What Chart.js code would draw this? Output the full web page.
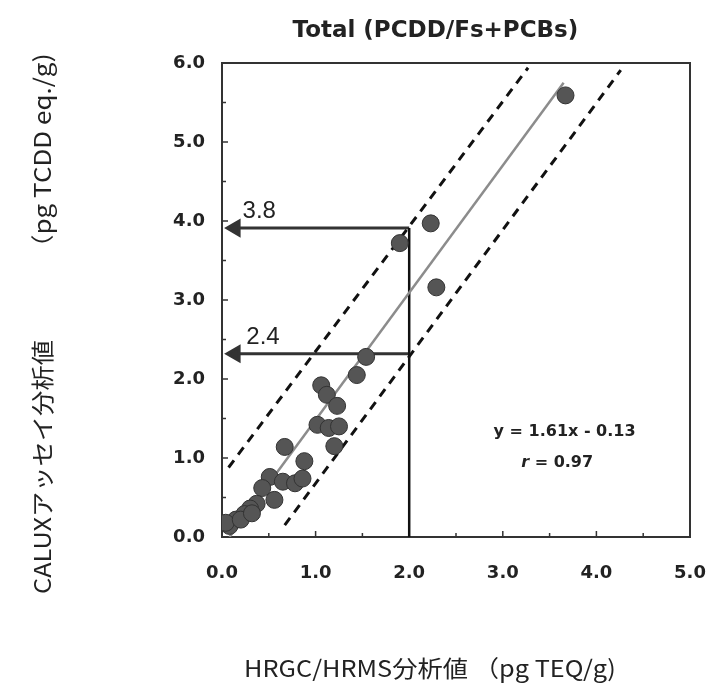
<!DOCTYPE html>
<html>
<head>
<meta charset="utf-8">
<script src="https://cdn.jsdelivr.net/npm/chart.js@4.4.0/dist/chart.umd.min.js"></script>
<style>
  html, body { margin: 0; padding: 0; background: #fff; }
  #wrap { width: 709px; height: 692px; }
</style>
</head>
<body>
<div id="wrap"><canvas id="myChart" width="709" height="692"></canvas></div>
<script>
// measured values (pg TEQ/g vs pg TCDD eq./g)
const hrgcX = [3.67, 2.23, 1.90, 2.29, 1.54, 1.44, 1.06, 1.12, 1.23, 1.02, 1.14, 1.25, 1.20, 0.67, 0.88,
               0.51, 0.65, 0.78, 0.86, 0.43, 0.56, 0.37, 0.30, 0.24, 0.15, 0.08, 0.04, 0.20, 0.32];
const caluxY = [5.59, 3.97, 3.72, 3.16, 2.28, 2.05, 1.92, 1.80, 1.66, 1.42, 1.38, 1.40, 1.15, 1.14, 0.96,
                0.76, 0.70, 0.68, 0.74, 0.62, 0.47, 0.42, 0.36, 0.29, 0.22, 0.14, 0.18, 0.22, 0.30];

// regression line y = 1.61x - 0.13 and its band (end points)
const fitX = [0.08, 3.65];
const fitY = [0.00, 5.75];
const upperX = [0.07, 3.27];
const upperY = [0.88, 5.94];
const lowerX = [0.67, 4.26];
const lowerY = [0.15, 5.91];

// reading at HRGC = 2.0
const cutX = 2.0;
const cutHigh = 3.91;
const cutLow = 2.32;
const arrowEndX = 0.14;
const arrowLabels = ['3.8', '2.4'];

const xTicks = [0, 1, 2, 3, 4, 5];
const yTicks = [0, 1, 2, 3, 4, 5, 6];

const titleText = 'Total (PCDD/Fs+PCBs)';
const xTitle = 'HRGC/HRMS分析値 （pg TEQ/g)';
const yTitleA = 'CALUXアッセイ分析値';
const yTitleB = '（pg TCDD eq./g)';
const eqText = 'y = 1.61x - 0.13';

function pts(xs, ys) {
    return xs.map((x, i) => ({x: x, y: ys[i]}));
}

const numFamily = '"DejaVu Sans", Verdana, sans-serif';

function stretchText(ctx, text, x, y, sx) {
    ctx.save();
    ctx.translate(x, y);
    ctx.scale(sx, 1);
    ctx.fillText(text, 0, 0);
    ctx.restore();
}

const extras = {
    id: 'extras',
    beforeDatasetsDraw(chart) {
        const ctx = chart.ctx;
        const xs = chart.scales.x, ys = chart.scales.y;
        const a = chart.chartArea;
        ctx.save();
        // frame top / right
        ctx.strokeStyle = '#333';
        ctx.lineWidth = 2;
        ctx.beginPath();
        ctx.moveTo(a.left, a.top);
        ctx.lineTo(a.right, a.top);
        ctx.lineTo(a.right, a.bottom);
        ctx.stroke();
        // inner ticks every 0.5
        ctx.lineWidth = 1.5;
        for (let v = 0.5; v < 5; v += 0.5) {
            const px = xs.getPixelForValue(v);
            ctx.beginPath();
            ctx.moveTo(px, a.bottom);
            ctx.lineTo(px, a.bottom - (v % 1 === 0 ? 6 : 4));
            ctx.stroke();
        }
        for (let v = 0.5; v < 6; v += 0.5) {
            const py = ys.getPixelForValue(v);
            ctx.beginPath();
            ctx.moveTo(a.left, py);
            ctx.lineTo(a.left + (v % 1 === 0 ? 6 : 4), py);
            ctx.stroke();
        }
        ctx.restore();
    },
    afterDraw(chart) {
        const ctx = chart.ctx;
        const xs = chart.scales.x, ys = chart.scales.y;
        ctx.save();
        ctx.fillStyle = '#222';
        ctx.textAlign = 'center';
        ctx.textBaseline = 'middle';

        ctx.font = 'bold 23px ' + numFamily;
        ctx.fillText(titleText, xs.getPixelForValue(2.28), 31);

        ctx.font = '23px "Noto Sans CJK JP", sans-serif';
        stretchText(ctx, xTitle, 430, 668, 1.1);

        ctx.save();
        ctx.translate(42, 0);
        ctx.rotate(-Math.PI / 2);
        stretchText(ctx, yTitleA, -467, 0, 1.1);
        stretchText(ctx, yTitleB, -157, 0, 1.13);
        ctx.restore();

        ctx.font = '24px "Liberation Sans", Arial, sans-serif';
        ctx.textAlign = 'left';
        ctx.fillText(arrowLabels[0], xs.getPixelForValue(0.22), ys.getPixelForValue(cutHigh) - 17);
        ctx.fillText(arrowLabels[1], xs.getPixelForValue(0.26), ys.getPixelForValue(cutLow) - 16);

        ctx.textAlign = 'center';
        ctx.font = 'bold 16px ' + numFamily;
        ctx.fillText(eqText, xs.getPixelForValue(3.66), ys.getPixelForValue(1.33));
        ctx.font = 'italic bold 16px ' + numFamily;
        const rx = xs.getPixelForValue(3.58), ry = ys.getPixelForValue(0.94);
        ctx.textAlign = 'right';
        ctx.fillText('r', rx - 28, ry);
        ctx.font = 'bold 16px ' + numFamily;
        ctx.textAlign = 'left';
        ctx.fillText(' = 0.97', rx - 28, ry);
        ctx.restore();
    }
};

const tickFont = { family: numFamily, size: 18, weight: 'bold' };

new Chart(document.getElementById('myChart'), {
    type: 'scatter',
    data: {
        datasets: [
            {
                label: 'samples',
                data: pts(hrgcX, caluxY),
                backgroundColor: '#555555',
                borderColor: '#333333',
                borderWidth: 1,
                pointRadius: 8.5,
                order: 1
            },
            {
                label: 'fit',
                type: 'line',
                data: pts(fitX, fitY),
                borderColor: '#8c8c8c',
                borderWidth: 2.5,
                pointRadius: 0,
                order: 2
            },
            {
                label: 'upper',
                type: 'line',
                data: pts(upperX, upperY),
                borderColor: '#111',
                borderWidth: 3,
                borderDash: [9, 7],
                pointRadius: 0,
                order: 3
            },
            {
                label: 'lower',
                type: 'line',
                data: pts(lowerX, lowerY),
                borderColor: '#111',
                borderWidth: 3,
                borderDash: [9, 7],
                pointRadius: 0,
                order: 3
            },
            {
                label: 'cut',
                type: 'line',
                data: [{x: cutX, y: 0}, {x: cutX, y: cutHigh}],
                borderColor: '#111',
                borderWidth: 2.5,
                pointRadius: 0,
                order: 4
            },
            {
                label: 'arrowHigh',
                type: 'line',
                data: [{x: cutX, y: cutHigh}, {x: arrowEndX, y: cutHigh}],
                borderColor: '#333',
                borderWidth: 3,
                pointStyle: 'triangle',
                pointRotation: -90,
                pointRadius: [0, 8],
                pointBackgroundColor: '#333',
                pointBorderColor: '#333',
                order: 4
            },
            {
                label: 'arrowLow',
                type: 'line',
                data: [{x: cutX, y: cutLow}, {x: arrowEndX, y: cutLow}],
                borderColor: '#333',
                borderWidth: 3,
                pointStyle: 'triangle',
                pointRotation: -90,
                pointRadius: [0, 8],
                pointBackgroundColor: '#333',
                pointBorderColor: '#333',
                order: 4
            }
        ]
    },
    options: {
        responsive: false,
        animation: false,
        events: [],
        layout: { padding: { left: 38, right: 19, top: 63, bottom: 12 } },
        plugins: {
            legend: { display: false },
            tooltip: { enabled: false }
        },
        scales: {
            x: {
                type: 'linear',
                min: 0, max: 5,
                afterFit: (s) => { s.height = 143; s.paddingLeft = 0; s.paddingRight = 0; },
                afterBuildTicks: (s) => { s.ticks = xTicks.map(v => ({value: v})); },
                border: { display: true, color: '#333', width: 2 },
                grid: { display: false, drawTicks: false },
                ticks: {
                    padding: 26,
                    color: '#222',
                    font: tickFont,
                    callback: (v) => v.toFixed(1)
                }
            },
            y: {
                type: 'linear',
                min: 0, max: 6,
                afterFit: (s) => { s.width = 184; s.paddingTop = 0; s.paddingBottom = 0; },
                afterBuildTicks: (s) => { s.ticks = yTicks.map(v => ({value: v})); },
                border: { display: true, color: '#333', width: 2 },
                grid: { display: false, drawTicks: false },
                ticks: {
                    padding: 17,
                    color: '#222',
                    font: tickFont,
                    callback: (v) => v.toFixed(1)
                }
            }
        }
    },
    plugins: [extras]
});
</script>
</body>
</html>
